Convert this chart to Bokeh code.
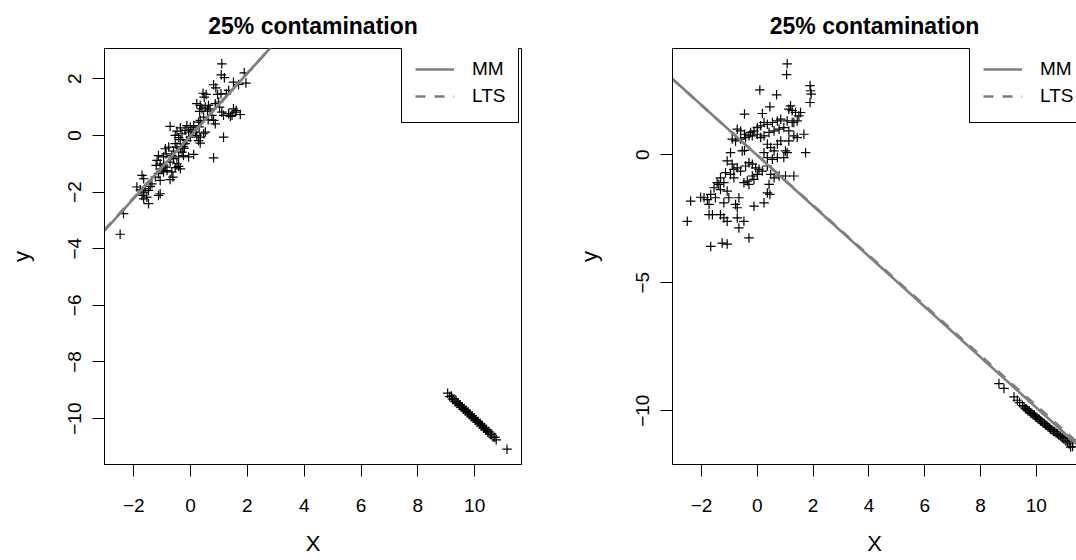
from bokeh.plotting import figure
from bokeh.models import (Range1d, FixedTicker, Legend, LegendItem,
                          LinearAxis, CustomJSTickFormatter)
from bokeh.layouts import row
from bokeh.embed import file_html
from bokeh.resources import INLINE

FONT = "Liberation Sans"
TITLE = "25% contamination"
X_LABEL = "X"
Y_LABEL = "y"
MM_LABEL = "MM"
LTS_LABEL = "LTS"

# ---------------- left panel data ----------------
left_x = [1.10, 1.08, 1.19, 1.89, 1.51, 1.69, 1.95, 0.81, 0.89, 0.44, 0.55, 0.48,
          0.95, 1.07, 1.26, 1.34, 0.22, 0.34, 0.40, 0.32, 0.52, 0.63, 0.69, 0.60,
          0.87, 0.99, 1.02, 1.51, 1.61, 1.75, 1.46, 1.34, 1.10, 1.16, 1.40, 1.57,
          0.75, 0.81, 0.87, 0.46, 0.34, 0.28, 0.11, -0.01, -0.13, -0.19, -0.07,
          -0.36, -0.48, -0.30, -0.54, -0.42, -0.36, -0.72, 0.17, 0.22, 0.34, 0.46,
          0.52, -0.01, -0.13, -0.19, 1.16, 0.81, 0.11, -0.07, 0.28, 0.34, -0.54,
          -0.48, -0.36, -0.27, -0.77, -0.89, -0.86, -0.95, -0.30, -0.25, -0.42,
          -0.66, -0.60, -0.72, -1.13, -1.18, -1.21, -1.07, -0.48, -0.42, -0.36,
          -0.54, -0.89, -0.83, -0.95, -1.01, -0.66, -0.62, -0.72, -1.13, -1.24,
          -1.07, -1.71, -1.65, -1.89, -1.77, -1.65, -1.60, -1.42, -1.36, -1.48,
          -1.07, -1.13, -1.71, -1.65, -1.54, -1.48, -2.36, -2.48, 0.05, -0.22,
          0.62, -0.60, 0.30, -0.95]
left_y = [2.53, 2.14, 2.04, 2.21, 1.88, 1.80, 1.85, 1.79, 1.68, 1.49, 1.45, 1.35,
          1.45, 1.47, 1.47, 1.59, 1.12, 1.06, 0.94, 0.85, 1.00, 1.06, 0.94, 0.86,
          1.12, 1.18, 1.00, 0.94, 0.88, 0.74, 0.71, 0.77, 0.82, 0.71, 0.67, 0.82,
          0.71, 0.53, 0.41, 0.65, 0.53, 0.47, 0.35, 0.29, 0.35, 0.18, 0.12,
          0.27, 0.15, 0.06, 0.00, -0.08, -0.15, 0.32, 0.12, 0.00, -0.06, 0.06,
          0.12, -0.06, -0.18, -0.29, -0.06, -0.79, -0.67, -0.76, -0.18, -0.27, -0.29,
          -0.41, -0.47, -0.39, -0.41, -0.47, -0.65, -0.76, -0.59, -0.71, -0.76,
          -0.71, -0.82, -0.94, -0.71, -0.88, -1.06, -1.00, -1.00, -1.09, -1.18,
          -1.14, -1.12, -1.24, -1.29, -1.18, -1.29, -1.47, -1.56, -1.35, -1.47,
          -1.59, -1.41, -1.53, -1.82, -1.92, -2.00, -1.88, -1.80, -1.71, -1.94,
          -2.06, -2.12, -2.12, -2.24, -2.18, -2.41, -2.76, -3.49, 0.20, -0.45,
          0.55, -0.55, 0.30, -1.05]
left_out_x = [9.05, 9.12, 9.18, 9.22, 9.27, 9.31, 9.35, 9.38, 9.42, 9.46, 9.49, 9.53,
              9.57, 9.60, 9.63, 9.67, 9.70, 9.74, 9.77, 9.81, 9.84, 9.88, 9.91, 9.95,
              9.98, 10.02, 10.05, 10.09, 10.12, 10.16, 10.20, 10.23, 10.27, 10.31,
              10.35, 10.38, 10.42, 10.46, 10.50, 10.55, 10.60, 10.65, 10.71, 10.76, 11.14]
left_out_y = [-9.10, -9.22, -9.20, -9.31, -9.30, -9.40, -9.38, -9.47, -9.44, -9.54, -9.51,
              -9.60, -9.58, -9.67, -9.64, -9.73, -9.70, -9.80, -9.77, -9.86, -9.84, -9.93,
              -9.90, -9.99, -9.97, -10.06, -10.03, -10.13, -10.10, -10.19, -10.17, -10.26,
              -10.24, -10.33, -10.31, -10.40, -10.38, -10.47, -10.46, -10.56, -10.55,
              -10.65, -10.66, -10.75, -11.08]
left_mm = (-0.015, 1.105)    # intercept, slope
left_lts = (0.0, 1.10)
left_xlim = (-3.03, 11.65)
left_ylim = (-11.62, 3.07)
left_xticks = [-2, 0, 2, 4, 6, 8, 10]
left_yticks = [-10, -8, -6, -4, -2, 0, 2]

# ---------------- right panel data ----------------
right_x = [1.07, 1.05, 0.09, 0.69, -0.46, 0.45, 0.18, 1.19, 1.37, 0.84, 0.72, 0.54,
           0.36, 0.24, 0.12, 0.00, -0.12, -0.24, -0.30, -0.46, -0.60, -0.72, -0.90,
           -0.78, -0.60, -0.42, -0.18, 0.00, 0.12, 0.24, 0.42, 0.60, 0.78, 0.95,
           1.13, 1.31, 1.43, 1.07, 1.25, 1.43, 0.36, 0.48, 0.60, 0.72, 0.54, 0.36,
           0.24, 1.01, 1.13, 0.84, 0.72, -0.54, -0.46, -0.96, -1.08, -0.90, -0.72,
           -0.84, -0.60, -0.42, -0.30, -0.18, -0.06, 0.06, 0.00, -0.18, -0.36,
           -0.48, -0.30, -0.12, 0.18, 0.36, 0.48, 0.60, 0.78, 1.01, 1.31, 0.42,
           0.36, 0.24, -0.12, -0.78, -0.72, -0.66, -1.02, -1.20, -1.08, -1.32,
           -1.38, -1.20, -1.55, -1.67, -1.50, -1.79, -1.91, -1.73, -2.39, -2.03,
           -1.61, -1.73, -1.32, -1.20, -1.08, -0.72, -0.48, -0.66, -0.30, -1.26,
           -1.08, -1.67, -2.51, -0.96, -0.84, -1.14, -1.32, -1.44, 1.89, 1.91,
           1.93, 1.89, 1.55, 1.49, 1.67, 1.73, 1.13, 1.25, 1.31, 1.07, 0.95, 0.45]
right_y = [3.55, 3.13, 2.53, 2.34, 1.59, 1.87, 1.61, 1.91, 1.65, 1.39, 1.32, 1.26,
           1.19, 1.26, 1.13, 1.06, 0.93, 0.87, 0.74, 0.80, 0.93, 1.00, 0.61,
           0.54, 0.61, 0.67, 0.74, 0.80, 0.67, 0.74, 0.87, 0.93, 1.00, 1.06,
           0.93, 0.74, 0.67, 1.32, 1.26, 1.32, 0.41, 0.28, 0.15, -0.11, -0.18, -0.11,
           0.08, 0.15, 0.54, 0.54, 0.41, 0.15, 0.17, 0.08, -0.24, -0.37, -0.51,
           -0.57, -0.64, -0.44, -0.31, -0.37, -0.51, -0.57, -0.77, -0.83, -1.03,
           -1.09, -1.16, -0.96, -0.64, -0.44, -0.77, -0.90, -0.83, -0.83, -0.83, -1.16,
           -1.49, -1.88, -2.01, -1.94, -2.07, -1.68, -1.68, -1.88, -1.42, -1.36,
           -1.16, -1.09, -1.29, -1.55, -1.68, -1.75, -1.68, -1.94, -1.81, -1.66,
           -2.34, -2.34, -2.34, -2.47, -2.60, -2.47, -2.60, -2.86, -3.25, -3.45,
           -3.49, -3.58, -2.60, -0.77, -0.90, -0.70, -0.90, -1.09, 2.70, 2.50,
           2.37, 2.04, 1.65, 1.52, 0.80, 0.08, 1.78, 1.72, 1.26, 0.08, -0.11, -1.55]
right_out_x = [8.66, 8.84, 9.20, 9.32, 9.40, 9.50, 9.56, 9.61, 9.66, 9.70, 9.75, 9.79,
               9.84, 9.88, 9.93, 9.97, 10.02, 10.06, 10.11, 10.15, 10.20, 10.24, 10.29,
               10.33, 10.38, 10.42, 10.47, 10.51, 10.56, 10.61, 10.66, 10.71, 10.76,
               10.81, 10.87, 10.93, 10.99, 11.06, 11.12, 11.18, 11.23, 11.30]
right_out_y = [-8.94, -9.13, -9.46, -9.59, -9.68, -9.80, -9.85, -9.92, -9.94, -10.00,
               -10.01, -10.08, -10.10, -10.16, -10.17, -10.24, -10.26, -10.32, -10.34,
               -10.40, -10.42, -10.48, -10.50, -10.56, -10.58, -10.64, -10.66, -10.72,
               -10.74, -10.80, -10.82, -10.88, -10.90, -10.96, -11.00, -11.06, -11.10,
               -11.18, -11.22, -11.30, -11.42, -11.40]
right_mm = (-0.03, -0.985)
right_lts = (-0.02, -0.978)
right_xlim = (-3.04, 11.44)   # panel is cut at the window's right edge
right_ylim = (-12.1, 4.15)
right_xticks = [-2, 0, 2, 4, 6, 8, 10]
right_yticks = [-10, -5, 0]

LINE_COLOR = "#7f7f7f"


def minus_formatter():
    return CustomJSTickFormatter(
        code="return tick < 0 ? '\\u2212' + Math.abs(tick) : '' + tick;")


def style_axis(ax, ticks):
    ax.ticker = FixedTicker(ticks=ticks)
    ax.formatter = minus_formatter()
    ax.axis_line_color = "black"
    ax.axis_line_width = 1
    ax.major_tick_line_color = "black"
    ax.major_tick_line_width = 1
    ax.major_tick_out = 12
    ax.major_tick_in = 0
    ax.minor_tick_line_color = None
    ax.major_label_text_font = FONT
    ax.major_label_text_font_size = "19px"
    ax.major_label_text_color = "black"
    ax.axis_label_text_font = FONT
    ax.axis_label_text_font_size = "22px"
    ax.axis_label_text_font_style = "normal"
    ax.axis_label_text_color = "black"


def make_panel(xs, ys, oxs, oys, mm, lts, xlim, ylim, xticks, yticks,
               width, border_right, boxed, title_offset):
    p = figure(width=width, height=560,
               x_range=Range1d(*xlim), y_range=Range1d(*ylim),
               output_backend="svg", toolbar_location=None,
               min_border_left=104, min_border_right=border_right,
               min_border_top=48, min_border_bottom=96,
               background_fill_color="white", border_fill_color="white")
    p.title.text = TITLE
    p.title.align = "center"
    p.title.text_font = FONT
    p.title.text_font_size = "23px"
    p.title.text_font_style = "bold"
    p.title.text_color = "black"
    p.title.standoff = 20
    p.title.offset = title_offset

    p.xgrid.visible = False
    p.ygrid.visible = False
    style_axis(p.xaxis[0], xticks)
    style_axis(p.yaxis[0], yticks)
    p.xaxis.major_label_standoff = 22
    p.yaxis.major_label_standoff = 11
    p.yaxis.major_label_orientation = "vertical"
    p.xaxis.axis_label = X_LABEL
    p.yaxis.axis_label = Y_LABEL
    p.xaxis.axis_label_standoff = 16
    p.yaxis.axis_label_standoff = 32
    if boxed:
        p.outline_line_color = "black"
        p.outline_line_width = 1
        p.outline_line_alpha = 1
    else:
        p.outline_line_color = None
        top = LinearAxis(ticker=FixedTicker(ticks=[]), axis_line_color="black",
                         major_tick_line_color=None, minor_tick_line_color=None,
                         major_tick_out=0, major_tick_in=0,
                         major_label_standoff=0,
                         major_label_text_font_size="0px")
        p.add_layout(top, "above")
        p.above = [top] + [r for r in p.above if r is not top]

    p.scatter(xs, ys, marker="cross", size=9.5, line_color="black", line_width=1.2)
    p.scatter(oxs, oys, marker="cross", size=9.5, line_color="black", line_width=1.2)

    ends = [xlim[0], xlim[1]]
    r_mm = p.line(ends, [mm[0] + mm[1] * v for v in ends],
                  line_color=LINE_COLOR, line_width=2.6)
    r_lts = p.line(ends, [lts[0] + lts[1] * v for v in ends],
                   line_color=LINE_COLOR, line_width=2.6, line_dash="10 9")

    leg = Legend(items=[LegendItem(label=MM_LABEL, renderers=[r_mm]),
                        LegendItem(label=LTS_LABEL, renderers=[r_lts])],
                 location=(297, 341), orientation="vertical",
                 border_line_color="black", border_line_width=1, border_line_alpha=1,
                 background_fill_color="white", background_fill_alpha=1,
                 label_text_font=FONT, label_text_font_size="19px",
                 label_text_color="black",
                 label_standoff=18, glyph_width=39, glyph_height=26,
                 label_height=26, spacing=1, padding=13, margin=0)
    p.add_layout(leg)
    return p


p1 = make_panel(left_x, left_y, left_out_x, left_out_y, left_mm, left_lts,
                left_xlim, left_ylim, left_xticks, left_yticks, 568, 47, True, 0)
p2 = make_panel(right_x, right_y, right_out_x, right_out_y, right_mm, right_lts,
                right_xlim, right_ylim, right_xticks, right_yticks, 508, 0, False, 6)

layout = row(p1, p2)
open("out.html", "w").write(file_html(layout, INLINE))
